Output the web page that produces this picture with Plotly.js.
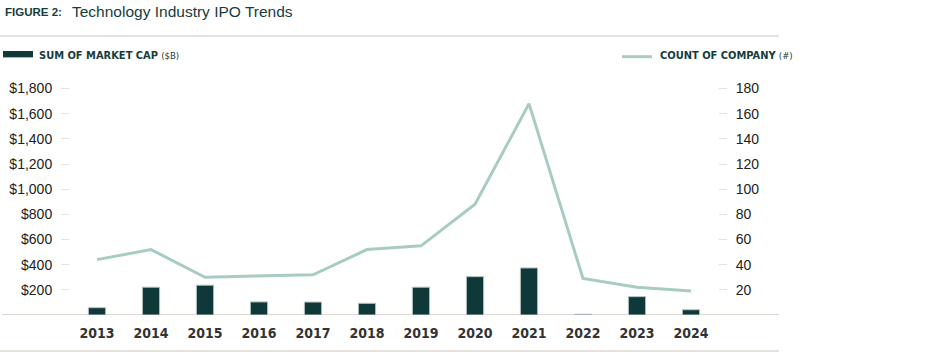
<!DOCTYPE html>
<html>
<head>
<meta charset="utf-8">
<script src="https://cdn.plot.ly/plotly-3.0.1.min.js"></script>
<style>
html,body{margin:0;padding:0;background:#fff;}
#chart{width:945px;height:357px;}
</style>
</head>
<body>
<div id="chart"></div>
<script>
// Data
const years = ["2013","2014","2015","2016","2017","2018","2019","2020","2021","2022","2023","2024"];
const marketCap = [58, 221, 237, 104, 103, 93, 221, 305, 374, 6, 146, 42];   // $B
const companyCount = [44, 52, 30, 31, 32, 52, 55, 88, 168, 29, 22, 19];      // #
const leftTicks = [200, 400, 600, 800, 1000, 1200, 1400, 1600, 1800];
const leftTickText = ["$200","$400","$600","$800","$1,000","$1,200","$1,400","$1,600","$1,800"];
const rightTicks = [20, 40, 60, 80, 100, 120, 140, 160, 180];

const DARK = "#0f3838";
const LINE = "#a8ccc4";
const RULE = "#ddd8cf";
const COND = "'DejaVu Sans Condensed','Liberation Sans Narrow',sans-serif";
const BODY = "'Liberation Sans','Inter',Arial,sans-serif";

const traces = [
  {
    type: "bar", x: years, y: marketCap, yaxis: "y", width: 0.32,
    marker: {color: DARK, line: {color: "#b9c4c1", width: 1}},
    showlegend: false, hoverinfo: "skip"
  },
  {
    type: "scatter", mode: "lines", x: years, y: companyCount, yaxis: "y2",
    line: {color: LINE, width: 3},
    showlegend: false, hoverinfo: "skip"
  }
];

const layout = {
  width: 945, height: 357,
  margin: {l: 70, r: 227, t: 76, b: 42},
  paper_bgcolor: "#fff", plot_bgcolor: "#fff",
  xaxis: {
    type: "category", showgrid: false, zeroline: false, showline: false,
    ticks: "", tickfont: {family: COND, size: 14, color: "#333", weight: "bold"},
    ticklabelstandoff: 8
  },
  yaxis: {
    range: [0, 1900], tickvals: leftTicks, ticktext: leftTickText,
    showgrid: false, zeroline: false, showline: false,
    ticks: "outside", ticklen: 8, tickcolor: "#e6e2da", tickwidth: 1,
    tickfont: {family: BODY, size: 14, color: "#222"},
    ticklabelstandoff: 6
  },
  yaxis2: {
    range: [0, 190], tickvals: rightTicks, overlaying: "y", side: "right",
    showgrid: false, zeroline: false, showline: false,
    ticks: "outside", ticklen: 8, tickcolor: "#e6e2da", tickwidth: 1,
    tickfont: {family: BODY, size: 14, color: "#222"},
    ticklabelstandoff: 6
  },
  shapes: [
    {type: "line", xref: "paper", yref: "y", x0: -0.105, x1: 1.0942, y0: 0, y1: 0, line: {color: RULE, width: 2}, layer: "below"},
    {type: "line", xref: "paper", yref: "paper", x0: -0.108, x1: 1.0942, y0: 1.1674, y1: 1.1674, line: {color: RULE, width: 1.5}},
    {type: "line", xref: "paper", yref: "paper", x0: -0.108, x1: 1.0942, y0: -0.1506, y1: -0.1506, line: {color: RULE, width: 1.5}},
    // legend swatches
    {type: "rect", xref: "paper", yref: "paper", x0: -0.1034, x1: -0.0571, y0: 1.078, y1: 1.1046, fillcolor: DARK, line: {width: 0}},
    {type: "line", xref: "paper", yref: "paper", x0: 0.8518, x1: 0.8981, y0: 1.0808, y1: 1.0808, line: {color: LINE, width: 3}}
  ],
  annotations: [
    {xref: "paper", yref: "paper", x: -0.104, y: 1.268, xanchor: "left", yanchor: "middle", showarrow: false,
     text: "<b>FIGURE 2:</b>", font: {family: BODY, size: 11.5, color: "#163c3c"}},
    {xref: "paper", yref: "paper", x: 0.0, y: 1.268, xanchor: "left", yanchor: "middle", showarrow: false,
     text: "Technology Industry IPO Trends", font: {family: BODY, size: 15.5, color: "#163c3c"}},
    {xref: "paper", yref: "paper", x: -0.0509, y: 1.084, xanchor: "left", yanchor: "middle", showarrow: false,
     text: "<b>SUM OF MARKET CAP</b> <span style='font-size:9.5px'>($B)</span>", font: {family: COND, size: 11, color: "#163c3c"}},
    {xref: "paper", yref: "paper", x: 0.9073, y: 1.084, xanchor: "left", yanchor: "middle", showarrow: false,
     text: "<b>COUNT OF COMPANY</b> <span style='font-size:9.5px'>(#)</span>", font: {family: COND, size: 11, color: "#163c3c"}}
  ]
};

Plotly.newPlot("chart", traces, layout, {staticPlot: true, displayModeBar: false});
</script>
</body>
</html>
